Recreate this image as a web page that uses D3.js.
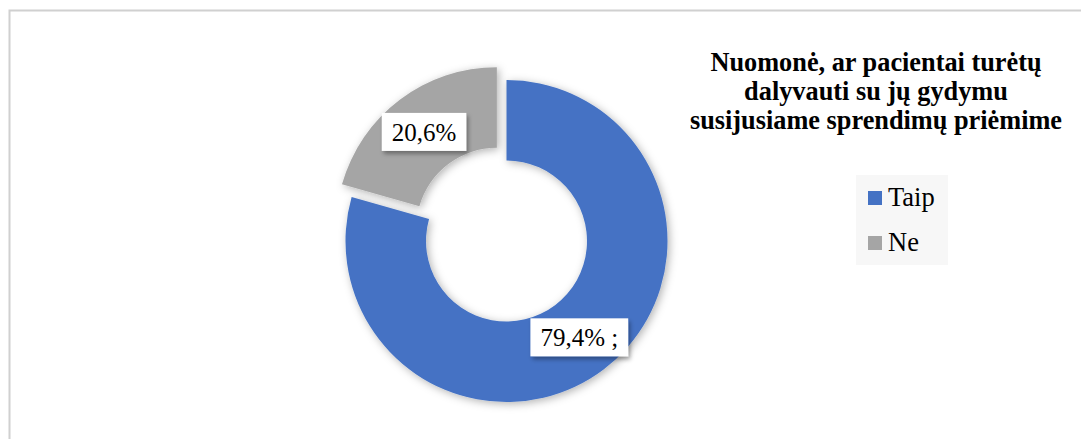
<!DOCTYPE html>
<html>
<head>
<meta charset="utf-8">
<script src="https://cdn.jsdelivr.net/npm/d3@7"></script>
<style>
  body { margin: 0; background: #fff; }
  text { font-family: "Liberation Serif", "Times New Roman", serif; }
</style>
</head>
<body>
<div id="chart"></div>
<script>
// data
const categories = ["Taip", "Ne"];
const values = [79.4, 20.6];
const labelTexts = ["79,4% ;", "20,6%"];
const colors = ["#4472C4", "#A5A5A5"];
const titleLines = ["Nuomonė, ar pacientai turėtų", "dalyvauti su jų gydymu", "susijusiame sprendimų priėmime"];
const explode = [0, 16];

const width = 1081, height = 439;
const cx = 506.5, cy = 241, outerR = 161, innerR = 80.5;

const svg = d3.select("#chart").append("svg")
    .attr("width", width)
    .attr("height", height);

const defs = svg.append("defs");
defs.append("filter").attr("id", "shadow")
    .attr("x", "-20%").attr("y", "-20%").attr("width", "140%").attr("height", "140%")
    .append("feDropShadow")
    .attr("dx", 2).attr("dy", 2).attr("stdDeviation", 4)
    .attr("flood-color", "#000").attr("flood-opacity", 0.3);
defs.append("filter").attr("id", "boxshadow")
    .attr("x", "-20%").attr("y", "-30%").attr("width", "140%").attr("height", "170%")
    .append("feDropShadow")
    .attr("dx", 2).attr("dy", 3).attr("stdDeviation", 2)
    .attr("flood-color", "#000").attr("flood-opacity", 0.35);

// chart frame
svg.append("rect")
    .attr("x", 9.5).attr("y", 10.5)
    .attr("width", width + 20).attr("height", height + 20)
    .attr("fill", "#fff")
    .attr("stroke", "#d0d0d0")
    .attr("stroke-width", 2);

const pie = d3.pie().sort(null).value(d => d)(values);
const arc = d3.arc().innerRadius(innerR).outerRadius(outerR);

const offset = (d, i) => {
    const mid = (d.startAngle + d.endAngle) / 2;
    return [explode[i] * Math.sin(mid), -explode[i] * Math.cos(mid)];
};

const g = svg.append("g").attr("transform", `translate(${cx},${cy})`);

g.selectAll("path.slice")
    .data(pie)
    .enter()
    .append("path")
    .attr("class", "slice")
    .attr("d", arc)
    .attr("fill", (d, i) => colors[i])
    .attr("filter", "url(#shadow)")
    .attr("transform", (d, i) => `translate(${offset(d, i)})`);

// data labels
const labels = g.selectAll("g.lbl")
    .data(pie)
    .enter()
    .append("g")
    .attr("class", "lbl")
    .attr("transform", (d, i) => {
        const c = arc.centroid(d), o = offset(d, i);
        return `translate(${c[0] + o[0]},${c[1] + o[1]})`;
    });

labels.each(function (d, i) {
    const lg = d3.select(this);
    const rect = lg.append("rect");
    const t = lg.append("text")
        .attr("text-anchor", "middle")
        .attr("y", 9)
        .style("font-size", "25px")
        .attr("fill", "#000")
        .text(labelTexts[i]);
    const w = t.node().getComputedTextLength() + 20;
    rect.attr("x", -w / 2).attr("y", -19)
        .attr("width", w).attr("height", 38)
        .attr("fill", "#fff")
        .attr("filter", "url(#boxshadow)");
});

// title
svg.append("text")
    .attr("x", 876)
    .attr("text-anchor", "middle")
    .style("font-size", "26.3px")
    .style("font-weight", "bold")
    .selectAll("tspan")
    .data(titleLines)
    .enter()
    .append("tspan")
    .attr("x", 876)
    .attr("y", (d, i) => 71 + i * 29)
    .text(d => d);

// legend
const legend = svg.append("g").attr("transform", "translate(856,175)");
legend.append("rect")
    .attr("width", 92).attr("height", 90)
    .attr("fill", "#f7f7f7");
const items = legend.selectAll("g.item")
    .data(categories)
    .enter()
    .append("g")
    .attr("class", "item")
    .attr("transform", (d, i) => `translate(12,${16 + i * 45})`);
items.append("rect")
    .attr("width", 14).attr("height", 14)
    .attr("fill", (d, i) => colors[i]);
items.append("text")
    .attr("x", 20).attr("y", 15)
    .style("font-size", "26.5px")
    .text(d => d);
</script>
</body>
</html>
